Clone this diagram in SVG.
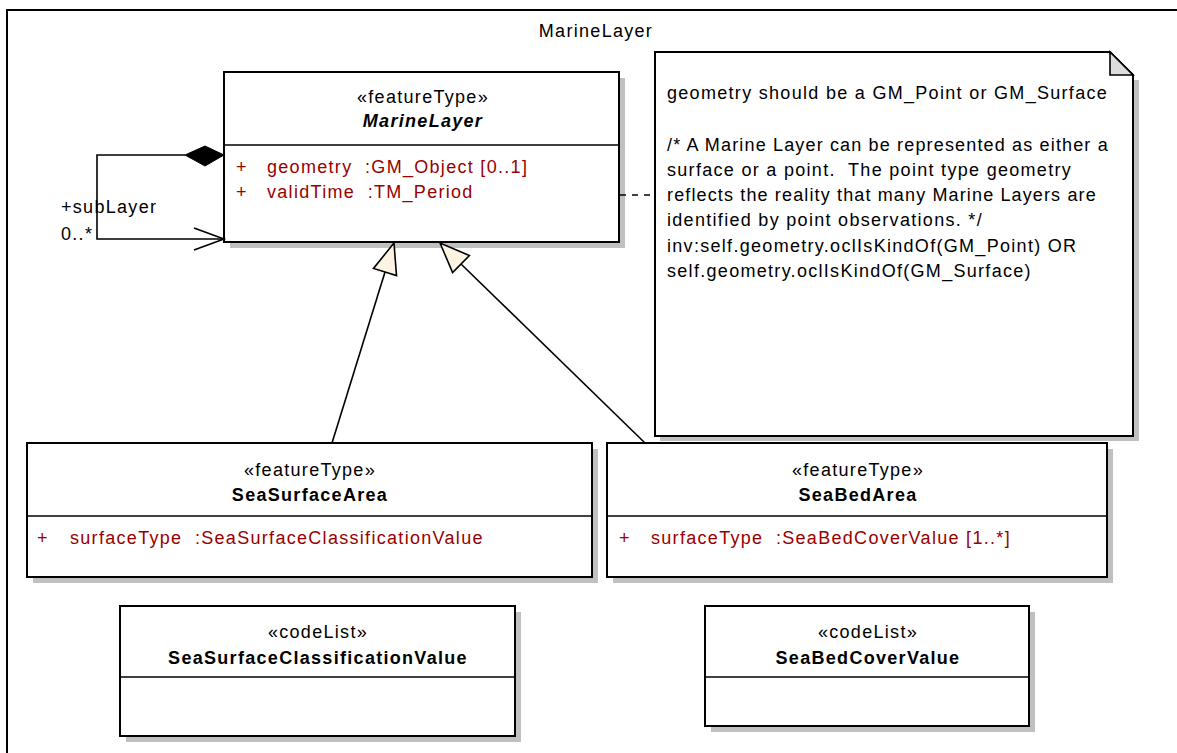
<svg xmlns="http://www.w3.org/2000/svg" width="1177" height="753" viewBox="0 0 1177 753">
<defs>
<style>
.box{fill:#fff;stroke:#000;stroke-width:2}
.sh{fill:#c0c0c0}
.ln{stroke:#000;stroke-width:1.6;fill:none}
.t{font-family:"Liberation Sans",Arial,sans-serif;font-size:18px;letter-spacing:1.3px;fill:#000;white-space:pre}
.c{text-anchor:middle}
.b{font-weight:bold}
.a{font-family:"Liberation Sans",Arial,sans-serif;font-size:18px;letter-spacing:1.3px;fill:#990000;white-space:pre}
.gen{fill:#fcf3e3;stroke:#000;stroke-width:1.6}
</style>
</defs>
<rect width="1177" height="753" fill="#fff"/>
<g id="frame">
<rect x="7" y="10" width="1185" height="760" fill="none" stroke="#000" stroke-width="2"/>
<text class="t c" x="596" y="37">MarineLayer</text>
</g>
<g id="note">
<polygon class="sh" points="660,441 1139,441 1139,80 1133,80 1133,436 660,436"/>
<polygon points="655,52 1110,52 1133,75 1133,436 655,436" fill="#fff" stroke="#000" stroke-width="2"/>
<polygon points="1110,52 1133,75 1110,75" fill="#dcdcdc" stroke="#000" stroke-width="1.6"/>
<text class="t" x="667" y="99">geometry should be a GM_Point or GM_Surface</text>
<text class="t" x="667" y="151" textLength="442" lengthAdjust="spacing">/* A Marine Layer can be represented as either a</text>
<text class="t" x="667" y="176" xml:space="preserve">surface or a point.  The point type geometry</text>
<text class="t" x="667" y="201" textLength="430" lengthAdjust="spacing">reflects the reality that many Marine Layers are</text>
<text class="t" x="667" y="226">identified by point observations. */</text>
<text class="t" x="667" y="252">inv:self.geometry.oclIsKindOf(GM_Point) OR</text>
<text class="t" x="667" y="277">self.geometry.oclIsKindOf(GM_Surface)</text>
</g>
<g id="MarineLayer">
<rect class="sh" x="230" y="78" width="395" height="170"/>
<rect class="box" x="224" y="72" width="395" height="170"/>
<line class="ln" x1="224" y1="145" x2="619" y2="145"/>
<text class="t c" x="423" y="103">«featureType»</text>
<text class="t c b" x="423" y="127" font-style="italic">MarineLayer</text>
<text class="a" x="236" y="173">+</text>
<text class="a" x="267" y="173" xml:space="preserve">geometry  :GM_Object [0..1]</text>
<text class="a" x="236" y="198">+</text>
<text class="a" x="267" y="198" xml:space="preserve">validTime  :TM_Period</text>
</g>
<g id="SeaSurfaceArea">
<rect class="sh" x="33" y="449" width="565" height="134"/>
<rect class="box" x="27" y="443" width="565" height="134"/>
<line class="ln" x1="27" y1="516" x2="592" y2="516"/>
<text class="t c" x="310" y="476">«featureType»</text>
<text class="t c b" x="310" y="501">SeaSurfaceArea</text>
<text class="a" x="37" y="544">+</text>
<text class="a" x="70" y="544" xml:space="preserve">surfaceType  :SeaSurfaceClassificationValue</text>
</g>
<g id="SeaBedArea">
<rect class="sh" x="613" y="449" width="500" height="134"/>
<rect class="box" x="607" y="443" width="500" height="134"/>
<line class="ln" x1="607" y1="516" x2="1107" y2="516"/>
<text class="t c" x="858" y="476">«featureType»</text>
<text class="t c b" x="858" y="501">SeaBedArea</text>
<text class="a" x="619" y="544">+</text>
<text class="a" x="651" y="544" xml:space="preserve">surfaceType  :SeaBedCoverValue [1..*]</text>
</g>
<g id="SeaSurfaceClassificationValue">
<rect class="sh" x="126" y="612" width="395" height="130"/>
<rect class="box" x="120" y="606" width="395" height="130"/>
<line class="ln" x1="120" y1="677" x2="515" y2="677"/>
<text class="t c" x="318" y="638">«codeList»</text>
<text class="t c b" x="318" y="664">SeaSurfaceClassificationValue</text>
</g>
<g id="SeaBedCoverValue">
<rect class="sh" x="711" y="612" width="324" height="120"/>
<rect class="box" x="705" y="606" width="324" height="120"/>
<line class="ln" x1="705" y1="677" x2="1029" y2="677"/>
<text class="t c" x="868" y="638">«codeList»</text>
<text class="t c b" x="868" y="664">SeaBedCoverValue</text>
</g>
<g id="connectors">
<polyline class="ln" points="185,155 97,155 97,239 224,239"/>
<polygon points="224,155 205,146 185,155 205,166" fill="#000" stroke="#000" stroke-width="1"/>
<polyline class="ln" points="194,228 224,239 194,250"/>
<text class="t" x="61" y="213">+subLayer</text>
<text class="t" x="61" y="240">0..*</text>
<line class="ln" x1="332" y1="443" x2="385" y2="272"/>
<polygon class="gen" points="394,243 373.5,268.4 396.5,275.6"/>
<line class="ln" x1="645" y1="443" x2="461" y2="264"/>
<polygon class="gen" points="440,243 452.6,272.5 469.4,255.5"/>
<line x1="620" y1="195" x2="655" y2="195" stroke="#000" stroke-width="1.6" stroke-dasharray="6,6"/>
</g>
</svg>
